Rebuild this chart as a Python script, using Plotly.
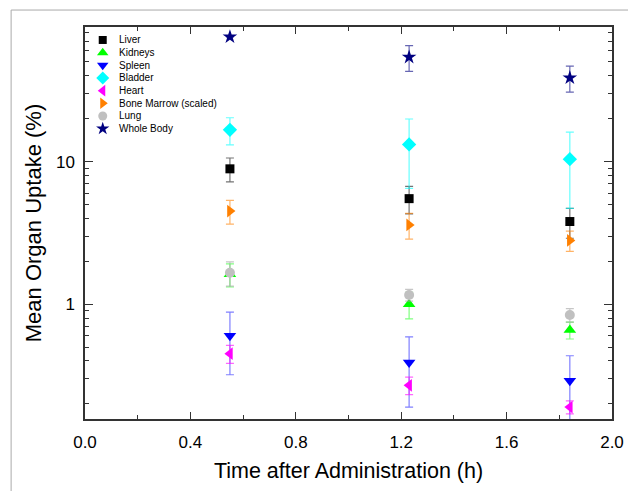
import plotly.graph_objects as go

times = [0.55, 1.23, 1.84]

organs = ["Liver", "Kidneys", "Spleen", "Bladder", "Heart", "Bone Marrow (scaled)", "Lung", "Whole Body"]
liver = [8.9, 5.5, 3.8]
liver_err = [1.7, 1.2, 0.9]
kidneys = [1.62, 1.0, 0.66]
kidneys_err = [0.3, 0.21, 0.09]
spleen = [0.6, 0.39, 0.29]
spleen_err = [0.28, 0.2, 0.145]
bladder = [16.7, 13.2, 10.4]
bladder_err = [3.6, 6.7, 5.7]
heart = [0.45, 0.27, 0.19]
heart_err = [0.065, 0.038, 0.02]
marrow = [4.5, 3.6, 2.8]
marrow_err = [0.85, 0.74, 0.45]
lung = [1.66, 1.16, 0.84]
lung_err = [0.32, 0.11, 0.09]
whole = [75, 54, 38.7]
whole_err = [0, 11, 8]

symbols = ["square", "triangle-up", "triangle-down", "diamond", "triangle-left", "triangle-right", "circle", "star"]
colors = ["#000000", "#00ff00", "#0000ff", "#00ffff", "#ff00ff", "#ff8000", "#c0c0c0", "#000080"]
err_colors = ["rgba(0,0,0,0.55)", "rgba(0,255,0,0.5)", "rgba(0,0,255,0.5)", "rgba(0,255,255,0.6)",
              "rgba(255,0,255,0.6)", "rgba(255,128,0,0.6)", "rgba(160,160,160,0.6)", "rgba(0,0,128,0.6)"]
sizes = [9, 11, 11, 11, 11, 11, 10, 11]
values = [liver, kidneys, spleen, bladder, heart, marrow, lung, whole]
errors = [liver_err, kidneys_err, spleen_err, bladder_err, heart_err, marrow_err, lung_err, whole_err]

fig = go.Figure()
for name, vals, errs, sym, col, ecol, sz in zip(organs, values, errors, symbols, colors, err_colors, sizes):
    fig.add_trace(go.Scatter(
        x=times, y=vals, name=name, mode="markers", showlegend=False,
        marker=dict(symbol=sym, color=col, size=sz, line=dict(width=0)),
        error_y=dict(type="data", array=errs, visible=True, color=ecol, thickness=1.2, width=4),
    ))

# custom compact legend (overlay axis in 0..1 units of the plot area)
plot_l, plot_r, plot_t, plot_b = 85, 620, 27, 420  # page pixels
pw, ph = plot_r - plot_l, plot_b - plot_t
leg_mx = (103 - plot_l) / pw
leg_tx = (117 - plot_l) / pw
leg_y = [(plot_b - (40 + 12.7 * i)) / ph for i in range(len(organs))]
leg_sizes = [8, 10, 10, 10, 10, 10, 9, 10]
for i, name in enumerate(organs):
    fig.add_trace(go.Scatter(
        x=[leg_mx], y=[leg_y[i]], xaxis="x2", yaxis="y2", mode="markers", showlegend=False,
        hoverinfo="skip",
        marker=dict(symbol=symbols[i], color=colors[i], size=leg_sizes[i], line=dict(width=0)),
    ))
    fig.add_annotation(x=leg_tx, y=leg_y[i], xref="x2", yref="y2", text=name, showarrow=False,
                       xanchor="left", yanchor="middle", font=dict(size=10, color="#000"))

minor_vals = [v * m for m in (0.1, 1, 10) for v in range(2, 10)]

fig.update_layout(
    width=628, height=483,
    margin=dict(l=77, r=16, t=19, b=71),
    paper_bgcolor="white", plot_bgcolor="white",
    font=dict(family="Liberation Sans, Arial, sans-serif", color="#000000"),
    showlegend=False,
    xaxis=dict(range=[0, 2], tickvals=[0, 0.4, 0.8, 1.2, 1.6, 2.0],
               ticktext=["0.0", "0.4", "0.8", "1.2", "1.6", "2.0"],
               ticks="inside", ticklen=7, tickwidth=1.3, tickcolor="#333",
               minor=dict(tickvals=[0.2, 0.6, 1.0, 1.4, 1.8], ticks="inside", ticklen=4, tickcolor="#333"),
               showline=True, linecolor="#333", linewidth=1.5, mirror="ticks",
               showgrid=False, zeroline=False, ticklabelstandoff=7,
               tickfont=dict(size=17),
               title=dict(text="Time after Administration (h)", font=dict(size=21.5), standoff=12)),
    yaxis=dict(type="log", range=[-0.805, 1.944], tickvals=[1, 10], ticktext=["1", "10"],
               ticks="inside", ticklen=8, tickwidth=1.3, tickcolor="#333",
               minor=dict(tickvals=minor_vals, ticks="inside", ticklen=4, tickcolor="#333"),
               showline=True, linecolor="#333", linewidth=1.5, mirror="ticks",
               showgrid=False, zeroline=False, ticklabelstandoff=5,
               tickfont=dict(size=17),
               title=dict(text="Mean Organ Uptake (%)", font=dict(size=22), standoff=8)),
    xaxis2=dict(overlaying="x", range=[0, 1], visible=False, fixedrange=True),
    yaxis2=dict(overlaying="y", range=[0, 1], visible=False, fixedrange=True),
)

# outer frame lines (image border)
fx = (10 - plot_l) / pw
fy = (plot_b - 10) / ph
fig.add_shape(type="line", xref="paper", yref="paper", x0=fx, x1=1.1, y0=fy, y1=fy,
              line=dict(color="#aaa", width=1))
fig.add_shape(type="line", xref="paper", yref="paper", x0=fx, x1=fx, y0=fy, y1=-0.3,
              line=dict(color="#aaa", width=1))

fig.write_html("out.html")
